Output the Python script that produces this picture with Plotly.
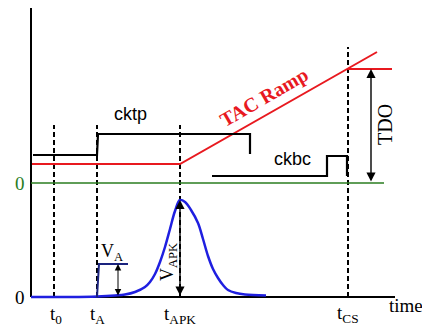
import plotly.graph_objects as go

# ---- data (schematic units: x = time, y = level; origin at axes corner) ----
t0, tA, tAPK, tCS = 23, 66, 149, 317
axis_top, axis_right = 289, 364
zero_level = 114            # green "0" reference for the upper group

cktp_x = [2, 66, 67, 219, 219]
cktp_y = [142, 142, 163, 163, 143]

ckbc_x = [181, 296, 296, 316, 316]
ckbc_y = [121, 121, 141, 141, 121]

ramp_x = [1, 149, 346]
ramp_y = [133, 133, 245]
tdo_x = [317, 361]
tdo_y = [228, 228]

green_x = [0, 353]
green_y = [114, 114]

pulse_x = [0, 40, 66, 84, 94, 104, 114, 119, 124, 129, 134, 139, 144, 149,
           154, 160, 167, 172, 177, 182, 187, 192, 197, 205, 214, 235]
pulse_y = [0, 0, 0.5, 1.5, 2.5, 5, 10, 15, 23, 35, 50, 68, 86, 97,
           95, 87, 74, 58, 41, 28, 19, 12, 7, 4, 2.5, 1.5]

va_x = [66, 68, 97]
va_y = [0, 33, 33]
va_level, vapk_level = 33, 97
va_arrow_x = 87
tdo_arrow_x = 340

fig = go.Figure()

def line(x, y, color, width, dash=None, shape="linear"):
    fig.add_trace(go.Scatter(x=x, y=y, mode="lines", hoverinfo="skip",
                             line=dict(color=color, width=width, dash=dash, shape=shape)))

# axes
line([0, 0], [0, axis_top], "black", 2)
line([0, axis_right], [0, 0], "black", 2)

# dashed time markers
for t, top in [(t0, 172), (tA, 172), (tAPK, 172), (tCS, 250)]:
    line([t, t], [0, top], "black", 2, dash="5px,3px")

line(green_x, green_y, "#2a7d1f", 1.6)
line(ramp_x, ramp_y, "#e8191f", 2)
line(tdo_x, tdo_y, "#e8191f", 2)
line(cktp_x, cktp_y, "black", 2.2)
line(ckbc_x, ckbc_y, "black", 2.2)
line(pulse_x, pulse_y, "#1f1fe0", 2.5, shape="spline")
line(va_x, va_y, "#1a237e", 2)

# double arrows
def darrow(x, y0, y1, w=1.3, size=1.0):
    fig.add_annotation(x=x, y=y1, ax=x, ay=y0, xref="x", yref="y", axref="x", ayref="y",
                       text="", showarrow=True, arrowhead=2, startarrowhead=2,
                       arrowside="end+start", arrowsize=size, startarrowsize=size,
                       arrowwidth=w, arrowcolor="black", standoff=0, startstandoff=0)

darrow(va_arrow_x, 0, va_level, w=1, size=1.3)
darrow(tAPK, 0, vapk_level, w=1.4, size=1.3)
darrow(tdo_arrow_x, zero_level, 228, w=1.4, size=1.3)

serif = "Liberation Serif"
sans = "Liberation Sans"

def label(x, y, text, size, color="black", family=serif, angle=0, xanchor="center"):
    fig.add_annotation(x=x, y=y, xref="x", yref="y", text=text, showarrow=False,
                       textangle=angle, xanchor=xanchor, yanchor="middle",
                       font=dict(family=family, size=size, color=color))

label(99, 183, "cktp", 18, family=sans)
label(261, 138, "ckbc", 18, family=sans)
label(233, 200, "<b>TAC Ramp</b>", 20, color="#e8191f", angle=-30)
label(354, 172, "TDO", 20, angle=-90)
label(-11, 114, "0", 19, color="#2a7d1f")
label(-11, 0, "0", 19)
label(t0 + 2, -18, "t<sub>0</sub>", 19)
label(tA, -18, "t<sub>A</sub>", 19)
label(tAPK, -18, "t<sub>APK</sub>", 19)
label(tCS, -17, "t<sub>CS</sub>", 19)
label(356, -8, "time", 19, xanchor="left")
label(81, 45, "V<sub>A</sub>", 18)
label(137, 35, "V<sub>APK</sub>", 18, angle=-90)

fig.update_layout(width=422, height=326, margin=dict(l=0, r=0, t=0, b=0),
                  paper_bgcolor="white", plot_bgcolor="white", showlegend=False,
                  xaxis=dict(range=[-31, 391], visible=False, fixedrange=True),
                  yaxis=dict(range=[-29, 297], visible=False, fixedrange=True))

fig.write_html("out.html", config={"displayModeBar": False},
               post_script="document.body.style.margin='0';document.body.style.overflow='hidden';")
